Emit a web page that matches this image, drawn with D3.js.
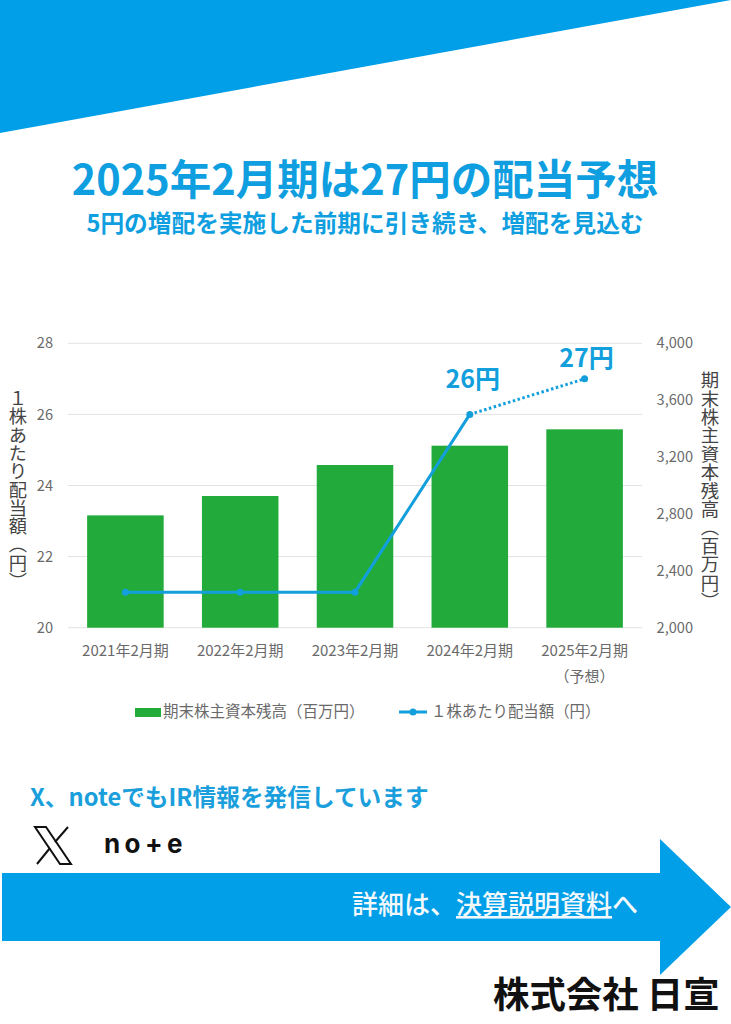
<!DOCTYPE html>
<html><head><meta charset="utf-8">
<script src="https://cdnjs.cloudflare.com/ajax/libs/d3/7.9.0/d3.min.js"></script>
<style>html,body{margin:0;padding:0;background:#fff}svg{display:block}text{font-family:"Noto Sans CJK JP","Noto Sans",sans-serif}</style>
</head><body><svg id="c" width="731" height="1024"></svg>
<script>
const categories=["2021年2月期","2022年2月期","2023年2月期","2024年2月期","2025年2月期"];
const equity=[2790,2926,3144,3280,3395];
const dividend=[21,21,21,26,27];
const dividendLabels=[null,null,null,"26円","27円"];
const leftTicks=[20,22,24,26,28];
const rightTicks=[2000,2400,2800,3200,3600,4000];
const BLUE="#009fe8",LINE="#129fdc",GREEN="#22ab3a",GREY="#6a6a6a";
const svg=d3.select("#c");
svg.append("polygon").attr("points","0,0 731,0 0,133").attr("fill",BLUE);
const text=(x,y,s,size,fill,anchor="middle",weight=400)=>svg.append("text").attr("x",x).attr("y",y).attr("font-size",size).attr("fill",fill).attr("text-anchor",anchor).attr("font-weight",weight).text(s);
text(365,195,"2025年2月期は27円の配当予想",41.5,"#0f9fe0","middle",700);
text(365,232,"5円の増配を実施した前期に引き続き、増配を見込む",23.7,"#0f9fe0","middle",700);
const x=d3.scaleBand().domain(categories).range([68,642]).paddingInner(1/3).paddingOuter(1/6);
const yL=d3.scaleLinear().domain([20,28]).range([627.7,343.3]);
const yR=d3.scaleLinear().domain([2000,4000]).range([627.7,343.3]);
const cx=c=>x(c)+x.bandwidth()/2;
svg.append("g").selectAll("line").data(leftTicks).join("line").attr("x1",68).attr("x2",642).attr("y1",d=>yL(d)).attr("y2",d=>yL(d)).attr("stroke","#e3e3e3").attr("stroke-width",1);
svg.append("g").selectAll("rect").data(equity).join("rect").attr("x",(d,i)=>x(categories[i])).attr("width",x.bandwidth()).attr("y",d=>yR(d)).attr("height",d=>yR(2000)-yR(d)).attr("fill",GREEN);
const gl=svg.append("g").attr("transform","translate(53,0)").call(d3.axisLeft(yL).tickValues(leftTicks).tickSize(0).tickPadding(0));
gl.select(".domain").remove();
gl.selectAll("text").attr("font-size",14.6).attr("fill",GREY).attr("font-family",'"Noto Sans",sans-serif');
const gr=svg.append("g").attr("transform","translate(693,0)").call(d3.axisRight(yR).tickValues(rightTicks).tickFormat(d3.format(",")).tickSize(0).tickPadding(0));
gr.select(".domain").remove();
gr.selectAll("text").attr("font-size",14.6).attr("fill",GREY).attr("text-anchor","end").attr("font-family",'"Noto Sans",sans-serif');
const line=d3.line().x(d=>cx(d.c)).y(d=>yL(d.v));
const pts=categories.map((c,i)=>({c,v:dividend[i],l:dividendLabels[i]}));
svg.append("path").attr("d",line(pts.slice(0,4))).attr("fill","none").attr("stroke",LINE).attr("stroke-width",3);
svg.append("path").attr("d",line(pts.slice(3))).attr("fill","none").attr("stroke",LINE).attr("stroke-width",3).attr("stroke-dasharray","2.5 2.5");
svg.append("g").selectAll("circle").data(pts).join("circle").attr("cx",d=>cx(d.c)).attr("cy",d=>yL(d.v)).attr("r",3.5).attr("fill",LINE);
svg.append("g").selectAll("text").data(pts.filter(d=>d.l)).join("text").attr("x",(d,i)=>cx(d.c)+(i?2:3)).attr("y",(d,i)=>yL(d.v)-(i?12:26)).attr("text-anchor","middle").attr("font-size",25).attr("font-weight",700).attr("fill",LINE).text(d=>d.l);
categories.forEach(c=>text(cx(c),656,c,15,GREY));
text(cx(categories[4]),682,"（予想）",15,GREY);
const vert=(xp,yp,s,size,fill)=>svg.append("text").attr("transform",`translate(${xp},${yp})`).attr("font-size",size).attr("fill",fill).attr("style","writing-mode:vertical-rl;text-orientation:upright").text(s);
vert(18,389,"１株あたり配当額（円）",18.3,"#444");
vert(710,371,"期末株主資本残高（百万円）",18.4,"#444");
svg.append("rect").attr("x",135).attr("y",708).attr("width",26).attr("height",9).attr("fill",GREEN);
text(163,717,"期末株主資本残高（百万円）",15.5,GREY,"start");
svg.append("line").attr("x1",399).attr("x2",427).attr("y1",712).attr("y2",712).attr("stroke",LINE).attr("stroke-width",3);
svg.append("circle").attr("cx",413).attr("cy",712).attr("r",3.5).attr("fill",LINE);
text(431,717,"１株あたり配当額（円）",15.4,GREY,"start");
text(30,806,"X、noteでもIR情報を発信しています",23.7,"#1a9fdc","start",700);
const xl=svg.append("g").attr("transform","translate(35,827)");
xl.append("path").attr("d","M0,0 L11,0 L36,37 L25,37 Z").attr("fill","#fff").attr("stroke","#111").attr("stroke-width",2);
xl.append("path").attr("d","M33,0 L20,15 M2,37 L15,21").attr("fill","none").attr("stroke","#111").attr("stroke-width",2);
svg.append("text").attr("x",104).attr("y",853).attr("font-size",26).attr("font-weight",700).attr("fill","#111").attr("letter-spacing",4.4).attr("style",'font-family:"Inter"').text("no+e");
svg.append("polygon").attr("points","2,873 660,873 660,839 731,907 660,975 660,941 2,941").attr("fill",BLUE);
const t=svg.append("text").attr("x",352).attr("y",914).attr("font-size",26).attr("font-weight",500).attr("fill","#f2f8fc");
t.append("tspan").text("詳細は、");
t.append("tspan").attr("text-decoration","underline").text("決算説明資料");
t.append("tspan").text("へ");
text(493,1008,"株式会社 日宣",36.4,"#111","start",700);
</script></body></html>
